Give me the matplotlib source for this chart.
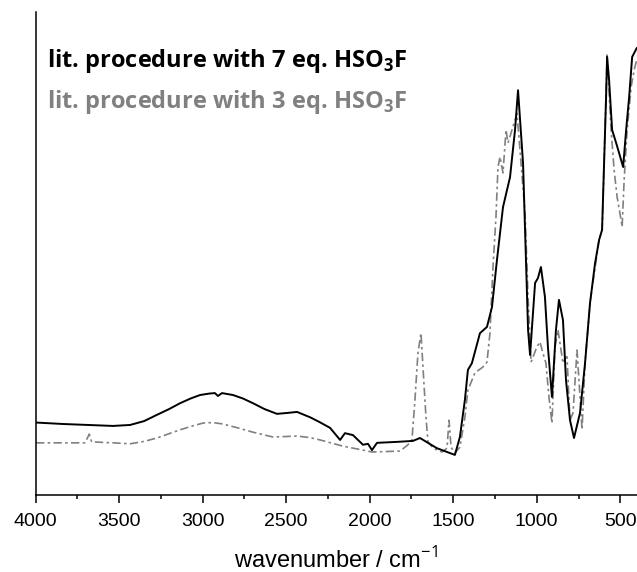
import numpy as np
import matplotlib.pyplot as plt
from matplotlib.ticker import MultipleLocator

# IR spectra, wavenumber (cm-1) vs. absorbance (arbitrary units)
wn_black = [3997, 3835, 3536, 3434, 3350, 3273, 3200, 3135, 3070, 3015, 2960, 2926, 2908, 2884,
            2818, 2760, 2698, 2630, 2555, 2490, 2435, 2357, 2300, 2237, 2177, 2148, 2100, 2040,
            2010, 1986, 1956, 1836, 1741, 1699, 1598, 1490, 1460, 1430, 1412, 1388, 1340, 1298,
            1268, 1238, 1202, 1160, 1130, 1112, 1082, 1064, 1052, 1040, 1010, 993, 975, 951,
            933, 909, 885, 867, 843, 825, 801, 777, 741, 711, 681, 651, 627, 609,
            597, 585, 579, 567, 549, 525, 507, 483, 465, 447, 429, 402]
ab_black = [0.150, 0.147, 0.143, 0.145, 0.153, 0.166, 0.178, 0.190, 0.200, 0.207, 0.210, 0.211,
            0.205, 0.211, 0.207, 0.200, 0.190, 0.178, 0.168, 0.170, 0.172, 0.161, 0.151, 0.139,
            0.114, 0.128, 0.124, 0.104, 0.106, 0.093, 0.108, 0.110, 0.112, 0.118, 0.097, 0.083,
            0.120, 0.197, 0.259, 0.273, 0.335, 0.348, 0.389, 0.487, 0.596, 0.658, 0.756, 0.838,
            0.687, 0.480, 0.342, 0.290, 0.439, 0.449, 0.472, 0.410, 0.306, 0.203, 0.342, 0.404,
            0.362, 0.238, 0.155, 0.118, 0.170, 0.273, 0.398, 0.480, 0.528, 0.549, 0.687, 0.824,
            0.907, 0.859, 0.756, 0.729, 0.708, 0.679, 0.756, 0.824, 0.907, 0.925]

wn_grey = [3997, 3835, 3704, 3678, 3664, 3536, 3434, 3350, 3273, 3200, 3135, 3060, 2997, 2940,
           2878, 2790, 2698, 2578, 2435, 2360, 2297, 2159, 2040, 1986, 1818, 1771, 1747, 1729,
           1711, 1693, 1681, 1663, 1651, 1621, 1567, 1537, 1525, 1513, 1490, 1460, 1430, 1412,
           1370, 1322, 1298, 1280, 1262, 1244, 1232, 1220, 1202, 1184, 1172, 1118,
           1070, 1052, 1034, 1000, 981, 963, 945, 927, 909, 891, 873, 843, 825,
           819, 801, 783, 759, 741, 729, 711, 681, 627, 609, 591, 579, 555, 537,
           519, 495, 489, 477, 459, 435, 417, 402]
ab_grey = [0.108, 0.108, 0.108, 0.126, 0.110, 0.108, 0.106, 0.111, 0.118, 0.127, 0.135, 0.143,
           0.149, 0.150, 0.147, 0.139, 0.130, 0.120, 0.122, 0.119, 0.114, 0.101, 0.093, 0.089,
           0.091, 0.104, 0.114, 0.197, 0.294, 0.335, 0.265, 0.161, 0.110, 0.097, 0.089, 0.097,
           0.155, 0.099, 0.087, 0.099, 0.161, 0.217, 0.253, 0.265, 0.275, 0.335, 0.472, 0.576,
           0.679, 0.700, 0.667, 0.756, 0.729, 0.790, 0.584, 0.410, 0.275, 0.306, 0.317, 0.294,
           0.273, 0.203, 0.149, 0.306, 0.342, 0.273, 0.286, 0.286, 0.155, 0.170, 0.300, 0.203,
           0.135, 0.273, 0.398, 0.528, 0.549, 0.756, 0.911, 0.756, 0.673, 0.617, 0.569, 0.555,
           0.652, 0.756, 0.845, 0.880, 0.900]

plt.rcParams['mathtext.fontset'] = 'custom'
plt.rcParams['mathtext.rm'] = 'Open Sans'
plt.rcParams['mathtext.bf'] = 'Open Sans:bold'

fig = plt.figure(figsize=(6.37, 5.72), dpi=100)
ax = fig.add_axes([35.5 / 637, 77 / 572, 601.5 / 637, 483 / 572])

ax.plot(wn_black, ab_black, color='black', lw=1.4, zorder=3)
ax.plot(wn_grey, ab_grey, color='#808080', lw=1.2, linestyle=(0, (5, 2, 1.5, 2)), zorder=2)

ax.set_xlim(4000, 400)
ax.set_ylim(0, 1)
ax.set_yticks([])
ax.spines['top'].set_visible(False)
ax.spines['right'].set_visible(False)
ax.spines['left'].set_linewidth(1.1)
ax.spines['bottom'].set_linewidth(1.1)

ax.xaxis.set_major_locator(MultipleLocator(500))
ax.xaxis.set_minor_locator(MultipleLocator(250))
ax.tick_params(axis='x', which='major', direction='out', length=6, width=1.1,
               labelsize=14, pad=7)
ax.tick_params(axis='x', which='minor', direction='out', length=3, width=1.1)
for lbl in ax.get_xticklabels():
    lbl.set_fontfamily('Liberation Sans')

ax.set_xlabel('wavenumber / cm$^{-1}$', fontsize=17, family='Liberation Sans', labelpad=12)

fig.text(47 / 637, 1 - 67 / 572, r'lit. procedure with 7 eq. HSO$_\mathbf{3}$F',
         fontsize=17, fontweight='bold', family='Open Sans', color='black', va='baseline')
fig.text(47 / 637, 1 - 108 / 572, r'lit. procedure with 3 eq. HSO$_\mathbf{3}$F',
         fontsize=17, fontweight='bold', family='Open Sans', color='#808080', va='baseline')

fig.savefig('out.png', dpi=100)
